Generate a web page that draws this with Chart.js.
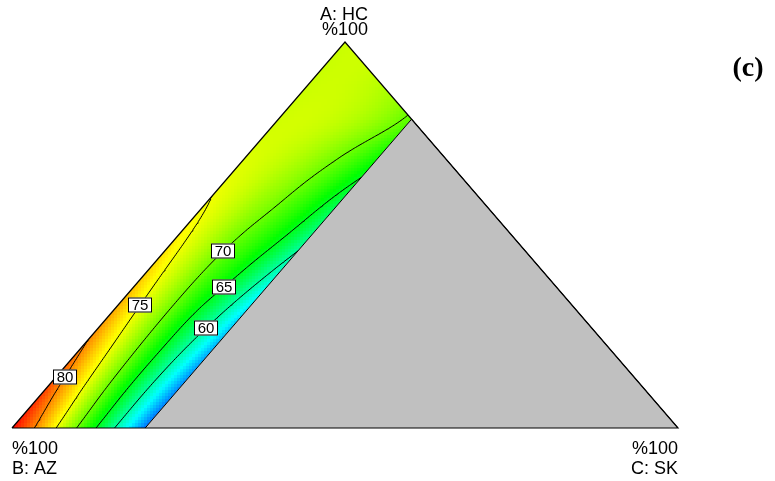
<!DOCTYPE html>
<html>
<head>
<meta charset="utf-8">
<script src="https://cdn.jsdelivr.net/npm/chart.js"></script>
<style>
  html, body { margin: 0; padding: 0; background: #ffffff; }
  #wrap { width: 775px; height: 481px; position: relative; }
</style>
</head>
<body>
<div id="wrap"><canvas id="plot"></canvas></div>
<script>
// Mixture components shown at the triangle vertices
const componentNames = ['A: HC', 'B: AZ', 'C: SK'];
const vertexText = '%100';
const panelTag = '(c)';

// Response grid: rows follow the A (HC) fraction, columns the C (SK) fraction
const fracA = [0, 0.1, 0.2, 0.3, 0.4, 0.5, 0.6, 0.7, 0.8, 0.9, 1.0];
const fracC = [0, 0.025, 0.05, 0.075, 0.1, 0.125, 0.15, 0.175, 0.2];
const respA00  = [84.80, 81.26, 77.53, 73.61, 69.50, 65.21, 60.73, 56.06, 51.20];
const respA10  = [82.54, 79.00, 75.68, 72.17, 68.47, 64.59, 60.51, 56.25, 52.01];
const respA20  = [80.52, 77.32, 74.42, 71.34, 68.06, 64.61, 60.96, 57.33, 53.40];
const respA30  = [78.76, 76.00, 73.55, 70.91, 68.08, 65.06, 62.16, 58.97, 55.39];
const respA40  = [77.26, 75.05, 73.06, 70.88, 68.52, 66.66, 64.12, 61.29, 58.28];
const respA50  = [76.00, 74.48, 72.96, 71.26, 69.58, 68.00, 66.14, 63.79, 61.15];
const respA60  = [75.00, 74.17, 73.15, 71.95, 70.86, 69.28, 67.71, 65.76, 63.62];
const respA70  = [74.24, 73.93, 73.43, 72.74, 71.86, 70.79, 69.54, 68.10, 66.47];
const respA80  = [73.74, 73.85, 73.77, 73.50, 73.04, 72.40, 71.57, 70.55, 69.34];
const respA90  = [73.50, 73.65, 73.62, 73.40, 73.00, 72.40, 71.62, 70.65, 69.50];
const respA100 = [73.50, 73.66, 73.63, 73.41, 73.00, 72.41, 71.63, 70.66, 69.50];

// Contour levels and the upper limit of C in the design space
const contourLevels = [60, 65, 70, 75, 80];
const upperC = 0.2;
// Response range spanned by the colour ramp
const colorScaleMin = 47;
const colorScaleMax = 85;
// A fraction at which each level's label box sits along its contour
const labelAnchorA = [0.259, 0.365, 0.458, 0.319, 0.133];

const respRows = [respA00, respA10, respA20, respA30, respA40, respA50,
                  respA60, respA70, respA80, respA90, respA100];
const stepA = fracA[1] - fracA[0];
const stepC = fracC[1] - fracC[0];

// ternary (A, C) -> cartesian plot coordinates (B = 1 - A - C)
function ternXY(a, c) { return { x: c + a / 2, y: a }; }

function node(i, j) {
  const nI = respRows.length - 1, nJ = fracC.length - 1;
  if (i < 0) return 2 * node(0, j) - node(1, j);
  if (i > nI) return 2 * node(nI, j) - node(nI - 1, j);
  if (j < 0) return 2 * node(i, 0) - node(i, 1);
  if (j > nJ) return 2 * node(i, nJ) - node(i, nJ - 1);
  return respRows[i][j];
}
function cr(p0, p1, p2, p3, t) {
  return 0.5 * (2 * p1 + (p2 - p0) * t + (2 * p0 - 5 * p1 + 4 * p2 - p3) * t * t +
                (3 * p1 - p0 - 3 * p2 + p3) * t * t * t);
}
// smooth (Catmull-Rom) reading of the response grid
function surface(a, c) {
  const nI = respRows.length - 1, nJ = fracC.length - 1;
  const u = Math.min(Math.max((a - fracA[0]) / stepA, 0), nI);
  const v = Math.min(Math.max((c - fracC[0]) / stepC, 0), nJ);
  const i = Math.min(Math.floor(u), nI - 1), j = Math.min(Math.floor(v), nJ - 1);
  const tu = u - i, tv = v - j;
  const r = [];
  for (let k = -1; k <= 2; k++) {
    r.push(cr(node(i + k, j - 1), node(i + k, j), node(i + k, j + 1), node(i + k, j + 2), tv));
  }
  return cr(r[0], r[1], r[2], r[3], tu);
}

const rampStops = [[0, [0, 0, 255]], [0.25, [0, 255, 255]], [0.5, [0, 255, 0]],
                   [0.75, [255, 255, 0]], [1, [255, 0, 0]]];
function rampColor(val) {
  const t = Math.min(Math.max((val - colorScaleMin) / (colorScaleMax - colorScaleMin), 0), 1);
  for (let k = 1; k < rampStops.length; k++) {
    if (t <= rampStops[k][0]) {
      const [t0, c0] = rampStops[k - 1], [t1, c1] = rampStops[k];
      const f = (t - t0) / (t1 - t0);
      const col = c0.map((v, n) => Math.round(v + (c1[n] - v) * f));
      return 'rgb(' + col.join(',') + ')';
    }
  }
  return 'rgb(255,0,0)';
}

// design-space polygon: C between 0 and upperC
const feasible = [ternXY(0, 0), ternXY(1, 0), ternXY(1 - upperC, upperC), ternXY(0, upperC)];
function clipFeasible(chart) {
  const { ctx, scales: { x, y } } = chart;
  ctx.beginPath();
  feasible.forEach((p, k) => {
    const px = x.getPixelForValue(p.x), py = y.getPixelForValue(p.y);
    if (k === 0) ctx.moveTo(px, py); else ctx.lineTo(px, py);
  });
  ctx.closePath();
  ctx.clip();
}

// contour polylines via marching squares on the smoothed grid
const NA = 200, NC = 80;
const dA = 1 / NA, dC = upperC / NC;
const field = [];
for (let i = 0; i <= NA; i++) {
  const row = [];
  for (let j = 0; j <= NC; j++) row.push(surface(i * dA, j * dC));
  field.push(row);
}
function contourData(level) {
  const pts = {};
  const segs = [];
  function edge(key, i0, j0, i1, j1) {
    if (!pts[key]) {
      const v0 = field[i0][j0], v1 = field[i1][j1];
      const t = (level - v0) / (v1 - v0);
      pts[key] = { a: (i0 + (i1 - i0) * t) * dA, c: (j0 + (j1 - j0) * t) * dC };
    }
    return key;
  }
  for (let i = 0; i < NA; i++) {
    for (let j = 0; j < NC; j++) {
      if (1 - (i * dA) - (j * dC) < -0.02) continue;
      const v0 = field[i][j], v1 = field[i][j + 1], v2 = field[i + 1][j + 1], v3 = field[i + 1][j];
      const s0 = v0 >= level, s1 = v1 >= level, s2 = v2 >= level, s3 = v3 >= level;
      const cross = [];
      if (s0 !== s1) cross.push(edge('c' + i + '_' + j, i, j, i, j + 1));
      if (s1 !== s2) cross.push(edge('a' + i + '_' + (j + 1), i, j + 1, i + 1, j + 1));
      if (s3 !== s2) cross.push(edge('c' + (i + 1) + '_' + j, i + 1, j, i + 1, j + 1));
      if (s0 !== s3) cross.push(edge('a' + i + '_' + j, i, j, i + 1, j));
      if (cross.length === 2) segs.push([cross[0], cross[1]]);
      else if (cross.length === 4) {
        const mid = (v0 + v1 + v2 + v3) / 4 >= level;
        if (mid === s0) { segs.push([cross[0], cross[1]]); segs.push([cross[2], cross[3]]); }
        else { segs.push([cross[0], cross[3]]); segs.push([cross[1], cross[2]]); }
      }
    }
  }
  // chain segments into polylines
  const adj = {};
  segs.forEach((s, k) => s.forEach(key => (adj[key] = adj[key] || []).push(k)));
  const used = new Array(segs.length).fill(false);
  const out = [];
  function walk(startKey) {
    const line = [startKey];
    let key = startKey;
    for (;;) {
      const next = (adj[key] || []).find(k => !used[k]);
      if (next === undefined) break;
      used[next] = true;
      key = segs[next][0] === key ? segs[next][1] : segs[next][0];
      line.push(key);
    }
    line.forEach(k => out.push(ternXY(pts[k].a, pts[k].c)));
    out.push({ x: NaN, y: NaN });
  }
  Object.keys(adj).forEach(key => { if (adj[key].length === 1 && adj[key].some(k => !used[k])) walk(key); });
  segs.forEach((s, k) => { if (!used[k]) walk(s[0]); });
  return out;
}

// point on a level's contour at a given A (response falls as C grows)
function contourPointAt(level, a) {
  let lo = 0, hi = Math.min(upperC, 1 - a);
  for (let n = 0; n < 50; n++) {
    const mid = (lo + hi) / 2;
    if (surface(a, mid) > level) lo = mid; else hi = mid;
  }
  return ternXY(a, (lo + hi) / 2);
}

const fieldPlugin = {
  id: 'responseField',
  beforeDatasetsDraw(chart) {
    const { ctx, chartArea, scales: { x, y } } = chart;
    const cell = 3;
    ctx.save();
    clipFeasible(chart);
    for (let py = chartArea.top; py < chartArea.bottom; py += cell) {
      const a = y.getValueForPixel(py + cell / 2);
      for (let px = chartArea.left; px < chartArea.right; px += cell) {
        const c = x.getValueForPixel(px + cell / 2) - a / 2;
        if (c < -0.02 || c > upperC + 0.02 || 1 - a - c < -0.02) continue;
        ctx.fillStyle = rampColor(surface(a, c));
        ctx.fillRect(px, py, cell, cell);
      }
    }
    ctx.restore();
  }
};

const clipPlugin = {
  id: 'contourClip',
  beforeDatasetDraw(chart, args) {
    if (chart.data.datasets[args.index].isContour) { chart.ctx.save(); clipFeasible(chart); }
  },
  afterDatasetDraw(chart, args) {
    if (chart.data.datasets[args.index].isContour) chart.ctx.restore();
  }
};

const labelPlugin = {
  id: 'contourLabels',
  afterDatasetsDraw(chart) {
    const { ctx, scales: { x, y } } = chart;
    ctx.save();
    ctx.font = '15px "Liberation Sans", Arial, sans-serif';
    ctx.textAlign = 'center';
    ctx.textBaseline = 'middle';
    contourLevels.forEach((level, k) => {
      const p = contourPointAt(level, labelAnchorA[k]);
      const px = Math.round(x.getPixelForValue(p.x)), py = Math.round(y.getPixelForValue(p.y));
      const w = 24, h = 15;
      ctx.fillStyle = '#ffffff';
      ctx.fillRect(px - w / 2, py - h / 2, w, h);
      ctx.strokeStyle = '#000000';
      ctx.lineWidth = 1;
      ctx.strokeRect(px - w / 2 + 0.5, py - h / 2 + 0.5, w - 1, h - 1);
      ctx.fillStyle = '#000000';
      ctx.fillText(String(level), px, py + 1);
    });
    ctx.restore();
  }
};

const vertexPlugin = {
  id: 'vertexText',
  afterDraw(chart) {
    const { ctx, scales: { x, y } } = chart;
    const top = { x: x.getPixelForValue(0.5), y: y.getPixelForValue(1) };
    const left = { x: x.getPixelForValue(0), y: y.getPixelForValue(0) };
    const right = { x: x.getPixelForValue(1), y: y.getPixelForValue(0) };
    ctx.save();
    ctx.fillStyle = '#000000';
    ctx.textBaseline = 'alphabetic';
    ctx.font = '18px "Liberation Sans", Arial, sans-serif';
    ctx.textAlign = 'center';
    ctx.fillText(componentNames[0], top.x - 1, top.y - 22);
    ctx.fillText(vertexText, top.x, top.y - 7);
    ctx.textAlign = 'left';
    ctx.fillText(vertexText, left.x, left.y + 26);
    ctx.fillText(componentNames[1], left.x, left.y + 46);
    ctx.textAlign = 'right';
    ctx.fillText(vertexText, right.x, right.y + 26);
    ctx.fillText(componentNames[2], right.x, right.y + 46);
    ctx.font = 'bold 28px "Liberation Serif", "Times New Roman", serif';
    ctx.textAlign = 'center';
    ctx.fillText(panelTag, 748, 76);
    ctx.restore();
  }
};

const contourSets = contourLevels.map(level => ({
  label: String(level),
  isContour: true,
  data: contourData(level),
  showLine: true,
  spanGaps: false,
  borderColor: '#000000',
  borderWidth: 1,
  pointRadius: 0,
  fill: false,
  order: 1
}));

new Chart(document.getElementById('plot'), {
  type: 'scatter',
  data: {
    datasets: [
      {
        label: 'outline',
        data: [ternXY(0, 0), ternXY(1, 0), ternXY(0, 1), ternXY(0, 0)],
        showLine: true,
        borderColor: '#000000',
        borderWidth: 1.2,
        pointRadius: 0,
        fill: false,
        clip: false,
        order: 0
      },
      ...contourSets,
      {
        label: 'excluded',
        data: [ternXY(0, upperC), ternXY(1 - upperC, upperC), ternXY(0, 1)],
        showLine: true,
        borderColor: '#000000',
        borderWidth: 1,
        backgroundColor: '#c0c0c0',
        pointRadius: 0,
        fill: 'origin',
        order: 2
      }
    ]
  },
  options: {
    responsive: true,
    maintainAspectRatio: false,
    animation: false,
    layout: { padding: { left: 12, right: 97, top: 42, bottom: 53 } },
    scales: {
      x: { type: 'linear', min: 0, max: 1, display: false },
      y: { type: 'linear', min: 0, max: 1, display: false }
    },
    plugins: { legend: { display: false }, tooltip: { enabled: false } },
    elements: { point: { radius: 0 } }
  },
  plugins: [fieldPlugin, clipPlugin, labelPlugin, vertexPlugin]
});
</script>
</body>
</html>
